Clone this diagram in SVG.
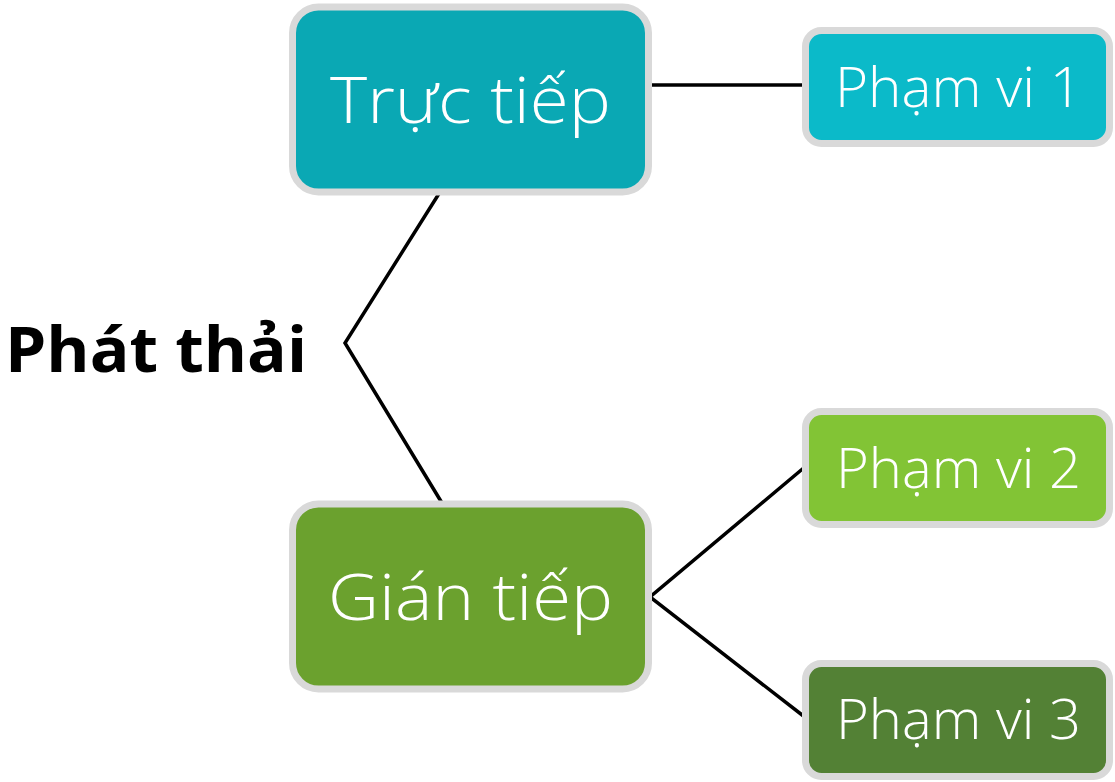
<svg xmlns="http://www.w3.org/2000/svg" width="1115" height="782" viewBox="0 0 1115 782">
  <style>
    .box { stroke: #d9d9d9; stroke-width: 7; }
    .lbl { font-family: "Open Sans", "Noto Sans", sans-serif; fill: #ffffff; font-weight: 300; }
    .big { font-size: 64px; }
    .small { font-size: 55px; }
    .edge { fill: none; stroke: #000000; stroke-width: 3.5; stroke-linejoin: miter; }
  </style>

  <!-- connectors -->
  <g id="connectors">
    <polyline class="edge" points="440,192 345,343 442,503"/>
    <line class="edge" x1="650" y1="85" x2="806" y2="85"/>
    <polyline class="edge" points="806,466 650,597 806,718"/>
  </g>

  <!-- root label -->
  <g id="phat-thai">
    <text x="5" y="372" font-family="'Open Sans', 'Noto Sans', sans-serif" font-weight="700" font-size="62" fill="#000000" textLength="302" lengthAdjust="spacingAndGlyphs">Phát thải</text>
  </g>

  <!-- direct emissions -->
  <g id="truc-tiep">
    <rect class="box" x="292.5" y="7" width="356" height="185" rx="26" fill="#0aa8b4"/>
    <text class="lbl big" x="330" y="123" textLength="281" lengthAdjust="spacingAndGlyphs">Trực tiếp</text>
  </g>

  <g id="pham-vi-1">
    <rect class="box" x="805.5" y="30.5" width="304" height="113" rx="16" fill="#0bbac9"/>
    <text class="lbl small" x="835" y="107" textLength="247" lengthAdjust="spacingAndGlyphs">Phạm vi 1</text>
  </g>

  <!-- indirect emissions -->
  <g id="gian-tiep">
    <rect class="box" x="292.5" y="504" width="356" height="185" rx="26" fill="#6ba12e"/>
    <text class="lbl big" x="328" y="620" textLength="285" lengthAdjust="spacingAndGlyphs">Gián tiếp</text>
  </g>

  <g id="pham-vi-2">
    <rect class="box" x="805.5" y="411.5" width="304" height="113" rx="16" fill="#82c435"/>
    <text class="lbl small" x="836" y="488" textLength="245" lengthAdjust="spacingAndGlyphs">Phạm vi 2</text>
  </g>

  <g id="pham-vi-3">
    <rect class="box" x="805.5" y="663.5" width="304" height="113" rx="16" fill="#538135"/>
    <text class="lbl small" x="836" y="739" textLength="245" lengthAdjust="spacingAndGlyphs">Phạm vi 3</text>
  </g>
</svg>
